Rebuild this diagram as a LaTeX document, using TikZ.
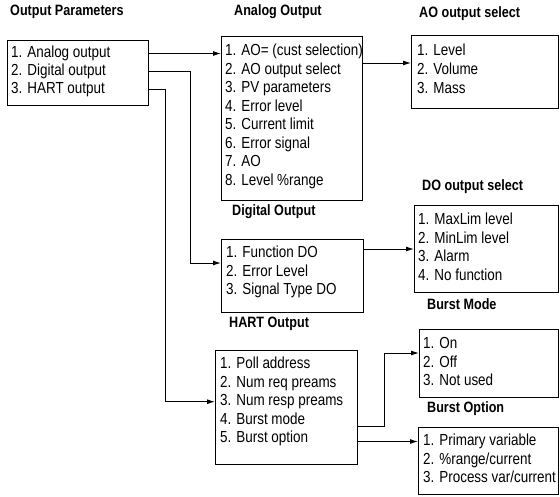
\documentclass[tikz,border=0pt]{standalone}
\usepackage{fontspec}
\setmainfont{Liberation Sans}[FakeStretch=0.84]
\usetikzlibrary{arrows.meta}

\begin{document}
\begin{tikzpicture}[x=1pt,y=-1pt,
  box/.style={draw,line width=1pt,anchor=north west,inner sep=0pt},
  itm/.style={anchor=mid west,inner sep=0pt,font=\fontsize{16}{19}\selectfont},
  ttl/.style={anchor=mid west,inner sep=0pt,font=\fontsize{15}{18}\selectfont\bfseries},
  arr/.style={line width=1pt,-{Latex[length=8pt,width=5pt]}}]
  \useasboundingbox (0,0) rectangle (560,496);
  % output parameters
  \node[ttl] (t-op) at (10,13) {Output Parameters};
  \node[box,minimum width=141pt,minimum height=65pt] (op) at (7,40) {};
  \node[itm] (op1) at (11,55) {1. Analog output}; \node[itm] (op2) at (11,73) {2. Digital output}; \node[itm] (op3) at (11,91) {3. HART output};
  % analog output
  \node[ttl] (t-ao) at (234,13) {Analog Output};
  \node[box,minimum width=141pt,minimum height=164pt] (ao) at (221,36) {};
  \node[itm] (ao1) at (225,53) {1. AO= (cust selection)}; \node[itm] (ao2) at (225,71.5) {2. AO output select};
  \node[itm] (ao3) at (225,90) {3. PV parameters}; \node[itm] (ao4) at (225,108.5) {4. Error level};
  \node[itm] (ao5) at (225,127) {5. Current limit}; \node[itm] (ao6) at (225,145.5) {6. Error signal};
  \node[itm] (ao7) at (225,164) {7. AO}; \node[itm] (ao8) at (225,182.5) {8. Level \%range};
  % AO output select
  \node[ttl] (t-aos) at (419,15) {AO output select};
  \node[box,minimum width=147pt,minimum height=73pt] (aos) at (411,35) {};
  \node[itm] (aos1) at (417,53) {1. Level}; \node[itm] (aos2) at (417,72) {2. Volume}; \node[itm] (aos3) at (417,90.5) {3. Mass};
  % digital output
  \node[ttl] (t-dgo) at (232,213) {Digital Output};
  \node[box,minimum width=142pt,minimum height=73pt] (dgo) at (221,239) {};
  \node[itm] (dgo1) at (226,255) {1. Function DO}; \node[itm] (dgo2) at (226,273.5) {2. Error Level}; \node[itm] (dgo3) at (226,292) {3. Signal Type DO};
  % DO output select
  \node[ttl] (t-dos) at (422,188) {DO output select};
  \node[box,minimum width=144pt,minimum height=87pt] (dos) at (414,205) {};
  \node[itm] (dos1) at (418,222) {1. MaxLim level}; \node[itm] (dos2) at (418,240.5) {2. MinLim level};
  \node[itm] (dos3) at (418,259) {3. Alarm}; \node[itm] (dos4) at (418,277.5) {4. No function};
  % HART output
  \node[ttl] (t-hrt) at (229,325) {HART Output};
  \node[box,minimum width=142pt,minimum height=114pt] (hrt) at (215,350) {};
  \node[itm] (hrt1) at (220,366) {1. Poll address}; \node[itm] (hrt2) at (220,384.5) {2. Num req preams};
  \node[itm] (hrt3) at (220,403) {3. Num resp preams}; \node[itm] (hrt4) at (220,421.5) {4. Burst mode};
  \node[itm] (hrt5) at (220,440) {5. Burst option};
  % burst mode / burst option
  \node[ttl] (t-bm) at (427,307) {Burst Mode};
  \node[box,minimum width=139pt,minimum height=68pt] (bm) at (419,329) {};
  \node[itm] (bm1) at (423,346) {1. On}; \node[itm] (bm2) at (423,364.5) {2. Off}; \node[itm] (bm3) at (423,383) {3. Not used};
  \node[ttl] (t-bo) at (427,410) {Burst Option};
  \node[box,minimum width=140pt,minimum height=67pt] (bo) at (418,427) {};
  \node[itm] (bo1) at (423,443) {1. Primary variable}; \node[itm] (bo2) at (423,461.5) {2. \%range/current}; \node[itm] (bo3) at (423,480) {3. Process var/current};
  % connectors
  \coordinate (k2) at (190,263); \coordinate (k3) at (165,0); \coordinate (k4) at (0,63); \coordinate (k5) at (0,249);
  \coordinate (k6) at (384,426); \coordinate (k7) at (384,353);
  \draw[arr] (op1 -| op.east) -- (op1 -| ao.west);
  \draw[arr] (op2 -| op.east) -| (k2) -- (k2 -| dgo.west);
  \draw[arr] (op3 -| op.east) -| (k3 |- hrt3) -- (hrt3 -| hrt.west);
  \draw[arr] (ao.east |- k4) -- (aos.west |- k4);
  \draw[arr] (dgo.east |- k5) -- (dos.west |- k5);
  \draw[arr] (hrt.east |- k6) -| (k7) -- (k7 -| bm.west);
  \draw[arr] (hrt.east |- bo1) -- (bo1 -| bo.west);
\end{tikzpicture}
\end{document}
